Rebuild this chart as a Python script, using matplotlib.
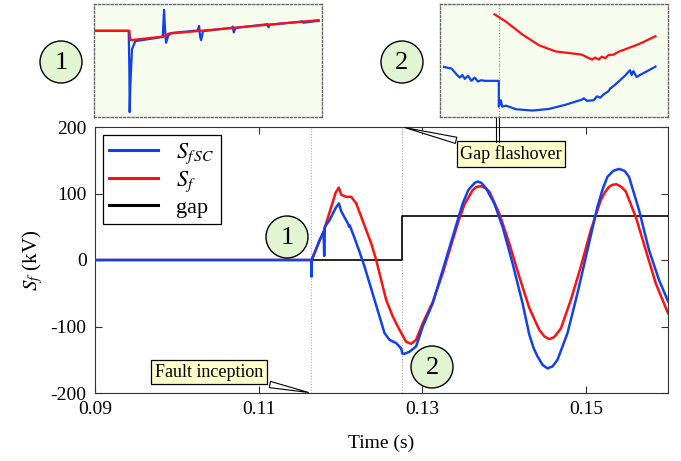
import numpy as np
import matplotlib
matplotlib.use('Agg')
import matplotlib.pyplot as plt
from matplotlib.patches import Ellipse

plt.rcParams['font.family'] = ['Liberation Serif', 'DejaVu Serif']
plt.rcParams['mathtext.fontset'] = 'stix'
plt.rcParams['axes.unicode_minus'] = False

# main traces (time in s, voltage in kV)
t_sfsc = [0.09, 0.11643, 0.11645, 0.11650, 0.11744, 0.11793, 0.11800, 0.11808, 0.11866,
          0.11939, 0.11979, 0.12009, 0.12089, 0.12105, 0.12112, 0.12171, 0.12232, 0.12293,
          0.12354, 0.12415, 0.12476, 0.12537, 0.12598, 0.12679, 0.12740, 0.12756, 0.12780,
          0.12841, 0.12923, 0.13004, 0.13126, 0.13248, 0.13370, 0.13492, 0.13560, 0.13594,
          0.13640, 0.13674, 0.13720, 0.13777, 0.13878, 0.13979, 0.14101, 0.14223, 0.14305,
          0.14360, 0.14406, 0.14470, 0.14528, 0.14590, 0.14650, 0.14772, 0.14894, 0.15016,
          0.15138, 0.15200, 0.15260, 0.15330, 0.15402, 0.15470, 0.15524, 0.15646, 0.15768,
          0.15890, 0.16]
v_sfsc = [0, 0, -25, 0, 30, 42, 6, 50, 60,
          78, 85, 73, 55, 50, 52, 33, 12, -10,
          -35, -60, -85, -110, -120, -125, -133, -141, -141,
          -138, -130, -100, -65, -15, 35, 85, 105, 110,
          116, 118, 116, 108, 85, 50, -5, -65, -112,
          -133, -145, -158, -163, -160, -150, -110, -50, 15,
          80, 106, 125, 134, 137, 134, 125, 75, 15,
          -30, -62]

t_sf = [0.09, 0.11643, 0.11793, 0.11939, 0.11979, 0.12009, 0.12070, 0.12130, 0.12191,
        0.12252, 0.12313, 0.12374, 0.12435, 0.12496, 0.12557, 0.12638, 0.12720, 0.12801,
        0.12862, 0.12923, 0.13004, 0.13126, 0.13248, 0.13370, 0.13440, 0.13512, 0.13613,
        0.13660, 0.13716, 0.13770, 0.13817, 0.13939, 0.14061, 0.14183, 0.14305, 0.14427,
        0.14490, 0.14549, 0.14610, 0.14691, 0.14813, 0.14935, 0.15057, 0.15179, 0.15230,
        0.15280, 0.15320, 0.15370, 0.15430, 0.15484, 0.15606, 0.15728, 0.15850, 0.16]
v_sf = [0, 0, 43, 101, 109, 98, 95, 95, 85,
        65, 45, 25, 0, -30, -60, -85, -105, -123,
        -126, -120, -95, -63, -20, 30, 58, 83, 105,
        110, 111, 108, 103, 70, 25, -25, -72, -105,
        -115, -119, -116, -103, -60, -10, 45, 90, 102,
        110, 113, 114, 110, 103, 65, 15, -35, -80]

t_gap = [0.09, 0.12756, 0.12756, 0.16]
v_gap = [0, 0, 66, 66]

t_fault = 0.1164
t_flash = 0.12756

# zoomed views (arbitrary inset units, y measured downwards)
z1_x_red = [5, 107, 110, 215, 225, 680]
z1_y_red = [83, 83, 112, 100, 92, 50]
z1_x_blue = [5, 105, 107, 108, 110, 115, 125, 208, 212, 215, 218, 224, 232, 314, 318, 321,
             324, 330, 417, 420, 423, 428, 522, 525, 528, 532, 627, 630, 633, 680]
z1_y_blue = [83, 83, 200, 335, 250, 140, 115, 102, 18, 80, 120, 100, 90, 82, 68, 100,
             112, 84, 74, 70, 88, 74, 63, 62, 72, 64, 55, 53, 58, 52]

z2_x_red = [165, 200, 250, 300, 350, 400, 430, 445, 460, 470, 480, 490, 500, 510, 525,
            540, 600, 652]
z2_y_red = [32, 55, 95, 128, 147, 153, 157, 165, 172, 166, 172, 163, 168, 158, 157,
            148, 125, 100]
z2_x_blue = [12, 35, 50, 60, 68, 75, 85, 95, 105, 115, 125, 135, 178, 178, 184, 188, 200,
             230, 280, 330, 380, 430, 435, 445, 465, 475, 485, 495, 510, 515, 530, 560,
             575, 580, 585, 595, 605, 652]
z2_y_blue = [195, 200, 218, 228, 220, 232, 222, 238, 228, 240, 236, 238, 238, 318, 298,
             318, 315, 326, 330, 325, 312, 296, 292, 300, 298, 286, 290, 280, 270, 262,
             250, 222, 205, 220, 208, 226, 220, 194]

blue = '#1040f0'
red = '#ff1010'
inset_bg = '#f6fdee'
circ_bg = '#e2f5d2'

W, H = 681, 461
fig = plt.figure(figsize=(W / 100, H / 100), dpi=100)

def fx(px):
    return px / W

def fy(py):
    return 1 - py / H

# main axes
ax = fig.add_axes([fx(95), fy(393), fx(668) - fx(95), fy(127) - fy(393)])
ax.plot(t_sfsc, v_sfsc, color=blue, lw=1.8, label=r'$S_{f\,SC}$', zorder=4)
ax.plot(t_sf, v_sf, color=red, lw=1.8, label=r'$S_f$', zorder=3)
ax.plot(t_gap, v_gap, color='black', lw=1.2, label='gap', zorder=2)
for tv in (t_fault, t_flash):
    ax.axvline(tv, color='#aaaaaa', lw=0.8, ls=(0, (1, 1.5)), zorder=1)

ax.set_xlim(0.09, 0.16)
ax.set_ylim(-200, 200)
ax.set_xticks([0.09, 0.11, 0.13, 0.15])
ax.set_xticklabels(['0.09', '0.11', '0.13', '0.15'])
ax.set_yticks([-200, -100, 0, 100, 200])
ax.tick_params(direction='in', top=True, right=True, labelsize=14, length=5,
               color='#333333', pad=6)
for s in ax.spines.values():
    s.set_color('#333333')
ax.set_xlabel('Time (s)', fontsize=14, labelpad=12)
ax.set_ylabel(r'$S_f$ (kV)', fontsize=15, labelpad=4)

leg = ax.legend(loc='upper left', fontsize=16, handlelength=2.2, fancybox=False,
                edgecolor='black', framealpha=1, borderaxespad=0.35,
                labelspacing=0.15, handletextpad=0.8, borderpad=0.3)
leg.get_frame().set_linewidth(0.9)
for line in leg.get_lines():
    line.set_linewidth(2.2)

# annotation boxes
box = dict(boxstyle='square,pad=0.2', fc='#ffffcc', ec='black', lw=0.9)
wedge = dict(arrowstyle='wedge,tail_width=0.35,shrink_factor=0.5', fc='white', ec='black', lw=0.8)
ax.annotate('Fault inception', xy=(t_fault, -200), xytext=(fx(209), fy(372)),
            textcoords='figure fraction', ha='center', va='center', fontsize=13,
            bbox=box, arrowprops=wedge, zorder=6)
ax.annotate('Gap flashover', xy=(t_flash, 200), xytext=(fx(511), fy(154)),
            textcoords='figure fraction', ha='center', va='center', fontsize=13,
            bbox=box, arrowprops=wedge, zorder=6)
fig.add_artist(plt.Line2D([fx(495.5), fx(495.5)], [fy(142), fy(118)], color='black', lw=0.8))
fig.add_artist(plt.Line2D([fx(498.5), fx(498.5)], [fy(142), fy(118)], color='black', lw=0.8))

# insets
def inset(px0, xs_r, ys_r, xs_b, ys_b, vline=None):
    a = fig.add_axes([fx(px0), fy(117), fx(228), fy(4) - fy(117)])
    a.set_facecolor(inset_bg)
    if vline is not None:
        a.axvline(vline, color='#888888', lw=0.8, ls=(0, (1, 1.5)))
    a.plot(xs_b, ys_b, color=blue, lw=1.6)
    a.plot(xs_r, ys_r, color=red, lw=1.6)
    a.set_xlim(0, 690)
    a.set_ylim(350, 0)
    a.set_xticks([])
    a.set_yticks([])
    for s in a.spines.values():
        s.set_color('#666666')
        s.set_linestyle((0, (1.5, 1.5)))
        s.set_linewidth(1.0)
    return a

inset(94, z1_x_red, z1_y_red, z1_x_blue, z1_y_blue)
inset(440, z2_x_red, z2_y_red, z2_x_blue, z2_y_blue, vline=178)

# numbered circles
for cx, cy, txt in [(61, 62, '1'), (402, 62, '2'), (287, 237, '1'), (432, 367, '2')]:
    fig.add_artist(Ellipse((fx(cx), fy(cy)), 42 / W, 42 / H, transform=fig.transFigure,
                           fc=circ_bg, ec='black', lw=1.0, zorder=10))
    fig.text(fx(cx), fy(cy + 1), txt, ha='center', va='center', fontsize=19, zorder=11)

fig.savefig('out.png', dpi=100)
